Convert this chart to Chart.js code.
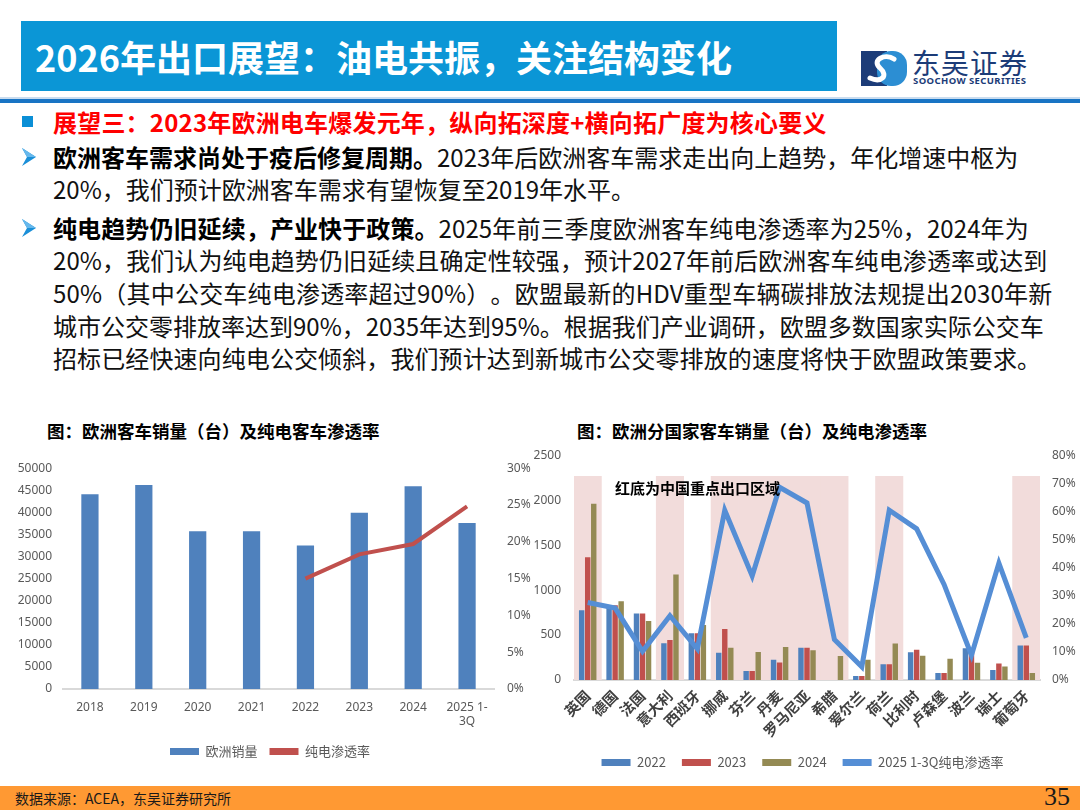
<!DOCTYPE html>
<html><head><meta charset="utf-8">
<script src="https://cdn.jsdelivr.net/npm/chart.js@4"></script>
<style>
body{margin:0;width:1080px;height:810px;position:relative;overflow:hidden;background:#fff;font-family:"Noto Sans CJK SC","Noto Sans",sans-serif;text-spacing-trim:space-all;}
.abs{position:absolute;white-space:nowrap;}
.line{position:absolute;left:53px;white-space:nowrap;font-size:24px;line-height:32px;height:32px;color:#111;text-spacing-trim:space-all;}
.line b{font-weight:700;color:#000;}
canvas{display:block;}
</style></head><body>
<div class="abs" style="left:21px;top:21px;width:816px;height:70px;background:#0B96D6;"></div>
<div class="abs" style="left:35px;top:21px;height:70px;line-height:70px;font-size:36px;font-weight:700;color:#fff;">2026年出口展望：油电共振，关注结构变化</div>
<svg class="abs" style="left:861px;top:51px;" width="46" height="35" viewBox="0 0 46 35">
  <rect x="0" y="0" width="26" height="35" fill="#1C3C78"/>
  <rect x="16" y="0" width="30" height="35" rx="14" fill="#2C8ED3"/>
  <path d="M33 8 C24 2, 10 9, 19 17 C28 25, 20 32, 9 27" stroke="#fff" stroke-width="5" fill="none" stroke-linecap="round"/>
</svg>
<div class="abs" style="left:912px;top:44px;font-size:28px;line-height:36px;color:#1C3C78;letter-spacing:1px;">东吴证券</div>
<div class="abs" style="left:913px;top:75px;font-size:9.5px;line-height:12px;font-weight:700;color:#1C3C78;font-family:'Noto Sans','DejaVu Sans',sans-serif;letter-spacing:0.4px;">SOOCHOW SECURITIES</div>
<div class="abs" style="left:0;top:97px;width:1080px;height:2px;background:#C9DCEF;"></div>
<div class="abs" style="left:0;top:99px;width:1080px;height:4px;background:#1874C4;"></div>

<div class="abs" style="left:22px;top:116px;width:11px;height:11px;background:#0B8FD6;"></div>
<div class="abs" style="left:53px;top:106px;font-size:24px;line-height:32px;font-weight:700;color:#FF0000;letter-spacing:0.2px;">展望三：2023年欧洲电车爆发元年，纵向拓深度+横向拓广度为核心要义</div>

<svg class="abs" style="left:21px;top:147px;" width="16" height="20"><polygon points="1,1 15,10 1,19 6,10" fill="#1A8FD8"/><polygon points="1,1 15,10 6,10" fill="#66B8EC"/></svg>
<svg class="abs" style="left:21px;top:218px;" width="16" height="20"><polygon points="1,1 15,10 1,19 6,10" fill="#1A8FD8"/><polygon points="1,1 15,10 6,10" fill="#66B8EC"/></svg>

<div class="line" style="top:141px;"><b>欧洲客车需求尚处于疫后修复周期。</b>2023年后欧洲客车需求走出向上趋势，年化增速中枢为</div>
<div class="line" style="top:173px;">20%，我们预计欧洲客车需求有望恢复至2019年水平。</div>
<div class="line" style="top:212px;letter-spacing:0.1px;"><b>纯电趋势仍旧延续，产业快于政策。</b>2025年前三季度欧洲客车纯电渗透率为25%，2024年为</div>
<div class="line" style="top:244px;letter-spacing:0.1px;">20%，我们认为纯电趋势仍旧延续且确定性较强，预计2027年前后欧洲客车纯电渗透率或达到</div>
<div class="line" style="top:277px;letter-spacing:0.2px;">50%（其中公交车纯电渗透率超过90%）。欧盟最新的HDV重型车辆碳排放法规提出2030年新</div>
<div class="line" style="top:310px;">城市公交零排放率达到90%，2035年达到95%。根据我们产业调研，欧盟多数国家实际公交车</div>
<div class="line" style="top:342px;letter-spacing:0.1px;">招标已经快速向纯电公交倾斜，我们预计达到新城市公交零排放的速度将快于欧盟政策要求。</div>

<div class="abs" style="left:47px;top:419px;font-size:17.5px;line-height:24px;font-weight:700;color:#000;">图：欧洲客车销量（台）及纯电客车渗透率</div>
<div class="abs" style="left:577px;top:419px;font-size:17.5px;line-height:24px;font-weight:700;color:#000;">图：欧洲分国家客车销量（台）及纯电渗透率</div>

<div class="abs" style="left:0;top:448px;width:540px;height:320px;"><canvas id="c1" width="540" height="320"></canvas></div>
<div class="abs" style="left:525px;top:435px;width:555px;height:344px;"><canvas id="c2" width="555" height="344"></canvas></div>
<div class="abs" style="left:615px;top:477px;font-size:15px;line-height:22px;font-weight:700;color:#000;z-index:5;">红底为中国重点出口区域</div>

<div class="abs" style="left:0;top:786px;width:1080px;height:24px;background:#FF9933;"></div>
<div class="abs" style="left:15px;top:786px;font-size:14px;line-height:24px;color:#1a1a1a;">数据来源：ACEA，东吴证券研究所</div>
<div class="abs" style="left:1044px;top:783px;font-size:26px;line-height:28px;color:#1a1a1a;font-family:'Liberation Serif',serif;">35</div>

<script>
// ---- Data: left chart ----
const yearLabels = ['2018','2019','2020','2021','2022','2023','2024',['2025 1-','3Q']];
const euroSales = [44100,46200,35700,35700,32500,39900,45900,37600];
const bevShareEU = [null,null,null,null,15.0,18.3,19.7,24.8];

// ---- Data: right chart ----
const countries = ['英国','德国','法国','意大利','西班牙','挪威','芬兰','丹麦','罗马尼亚','希腊','爱尔兰','荷兰','比利时','卢森堡','波兰','瑞士','葡萄牙'];
const sales2022 = [777,832,740,410,520,304,99,224,359,0,44,176,308,77,352,110,385];
const sales2023 = [1364,832,740,444,520,568,99,194,359,0,44,176,337,77,320,183,385];
const sales2024 = [1961,876,656,1173,612,359,312,367,330,268,224,407,271,235,191,150,77];
const bevShare2025 = [27.6,25.6,10.2,22.9,11.1,60.4,37.0,68.6,63.0,14.4,4.7,60.4,53.8,34.0,8.8,41.6,15.0];
const chinaFocus = [1,0,0,1,0,1,1,1,1,1,0,1,0,0,0,0,1];

Chart.defaults.font.family = '"Noto Sans","Noto Sans CJK SC",sans-serif';
Chart.defaults.color = '#595959';
Chart.defaults.animation = false;

function legendLabels(chart){
  return Chart.defaults.plugins.legend.labels.generateLabels(chart)
    .filter(l => l.text)
    .map(l => Object.assign(l, {lineWidth:0}));
}
const byIndex = (a,b) => a.datasetIndex - b.datasetIndex;
const tickFont = {size:12};
const plain = v => String(v);

new Chart(document.getElementById('c1'), {
  type:'bar',
  data:{
    labels: yearLabels,
    datasets:[
      {label:'欧洲销量', data: euroSales, backgroundColor:'#4F81BD', yAxisID:'y', barPercentage:0.4, categoryPercentage:0.8, order:2},
      {label:'纯电渗透率', type:'line', data: bevShareEU, borderColor:'#C0504D', backgroundColor:'#C0504D', borderWidth:4, pointRadius:0, yAxisID:'y1', order:1}
    ]
  },
  options:{
    responsive:false,
    layout:{padding:{top:15,bottom:0,left:0,right:0}},
    plugins:{
      legend:{position:'bottom', labels:{boxWidth:29, boxHeight:7, font:{size:13, family:'"Noto Sans CJK SC",sans-serif'}, color:'#595959', padding:12, sort: byIndex, generateLabels: legendLabels}},
      tooltip:{enabled:false}
    },
    scales:{
      x:{grid:{display:false, drawTicks:false}, border:{display:true, color:'#D9D9D9', width:2},
         ticks:{font:tickFont, color:'#595959', padding:11, maxRotation:0},
         afterFit(s){ s.height = 44; }},
      y:{position:'left', min:0, max:50000, ticks:{stepSize:5000, font:tickFont, color:'#595959', padding:11, callback: plain},
         grid:{display:false, drawTicks:false}, border:{display:false},
         afterFit(s){ s.width = 63; }},
      y1:{position:'right', min:0, max:30, ticks:{stepSize:5, font:tickFont, color:'#595959', padding:13, callback:v=>v+'%'},
         grid:{display:false, drawTicks:false}, border:{display:false},
         afterFit(s){ s.width = 46; }}
    }
  }
});

new Chart(document.getElementById('c2'), {
  type:'bar',
  data:{
    labels: countries,
    datasets:[
      {label:'', data: chinaFocus.map(f => f ? 2265 : null), backgroundColor:'#F2DCDB', grouped:false, barPercentage:1, categoryPercentage:1, order:10, yAxisID:'y'},
      {label:'2022', data: sales2022, backgroundColor:'#4F81BD', barPercentage:0.9, categoryPercentage:0.66, order:3, yAxisID:'y'},
      {label:'2023', data: sales2023, backgroundColor:'#C0504D', barPercentage:0.9, categoryPercentage:0.66, order:3, yAxisID:'y'},
      {label:'2024', data: sales2024, backgroundColor:'#948A54', barPercentage:0.9, categoryPercentage:0.66, order:3, yAxisID:'y'},
      {label:'2025 1-3Q纯电渗透率', type:'line', data: bevShare2025, borderColor:'#558ED5', backgroundColor:'#558ED5', borderWidth:5, pointRadius:0, yAxisID:'y1', order:0}
    ]
  },
  options:{
    responsive:false,
    layout:{padding:{top:12,bottom:0,left:0,right:0}},
    plugins:{
      legend:{position:'bottom', labels:{boxWidth:29, boxHeight:7, font:{size:13, family:'"Noto Sans CJK SC",sans-serif'}, color:'#595959', padding:16, sort: byIndex, generateLabels: legendLabels}},
      tooltip:{enabled:false}
    },
    scales:{
      x:{grid:{display:false, drawTicks:false}, border:{display:true, color:'#D9D9D9', width:2},
         ticks:{font:{size:14.5, weight:'bold', family:'"Noto Sans CJK SC",sans-serif'}, color:'#404040', padding:7, minRotation:45, maxRotation:45, autoSkip:false},
         afterFit(s){ s.height = 60; }},
      y:{position:'left', min:0, max:2500, ticks:{stepSize:500, font:tickFont, color:'#595959', padding:13, callback: plain},
         grid:{display:false, drawTicks:false}, border:{display:false},
         afterFit(s){ s.width = 49; }},
      y1:{position:'right', min:0, max:80, ticks:{stepSize:10, font:tickFont, color:'#595959', padding:12, callback:v=>v+'%'},
         grid:{display:false, drawTicks:false}, border:{display:false},
         afterFit(s){ s.width = 40; }}
    }
  }
});
</script>
</body></html>
